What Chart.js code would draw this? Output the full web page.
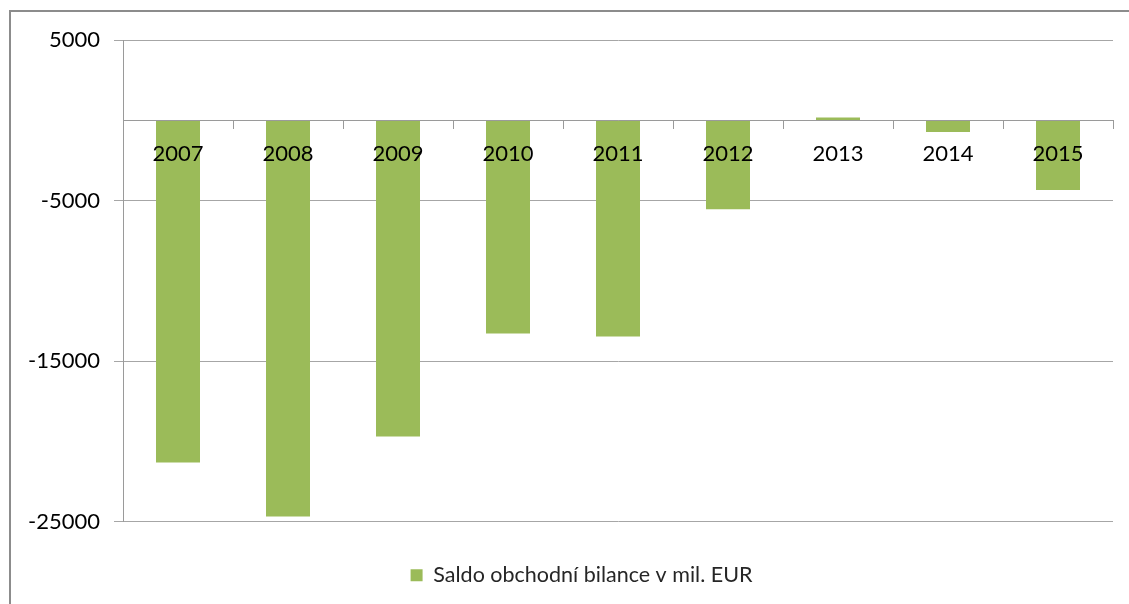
<!DOCTYPE html>
<html>
<head>
<meta charset="utf-8">
<script src="https://cdn.jsdelivr.net/npm/chart.js@4.4.0/dist/chart.umd.min.js"></script>
<style>
  html, body { margin: 0; padding: 0; background: #fff; }
  #wrap { position: relative; width: 1129px; height: 604px; overflow: hidden; }
  #frame { position: absolute; left: 9px; top: 10px; width: 1200px; height: 700px;
           border-left: 2px solid #8c8c8c; border-top: 2px solid #8c8c8c; pointer-events: none; }
</style>
</head>
<body>
<div id="wrap">
  <canvas id="c" width="1129" height="604"></canvas>
  <div id="frame"></div>
</div>
<script>
const categories = ['2007', '2008', '2009', '2010', '2011', '2012', '2013', '2014', '2015'];
const seriesName = 'Saldo obchodní bilance v mil. EUR';
const values = [-21320, -24690, -19700, -13280, -13470, -5550, 170, -730, -4350];
const yTickValues = [5000, -5000, -15000, -25000];

const FONT = 'Lato, "Open Sans", sans-serif';

const legendShift = {
  id: 'legendShift',
  afterLayout(chart) {
    if (chart.legend) { chart.legend.left += 25; chart.legend.right += 25; }
  }
};

new Chart(document.getElementById('c'), {
  type: 'bar',
  data: {
    labels: categories,
    datasets: [{
      label: seriesName,
      data: values,
      backgroundColor: '#9bbb59',
      borderWidth: 0,
      barPercentage: 0.4,
      categoryPercentage: 1.0
    }]
  },
  plugins: [legendShift],
  options: {
    responsive: false,
    animation: false,
    layout: { padding: { left: 0, right: 16, top: 40, bottom: 8 } },
    plugins: {
      tooltip: { enabled: false },
      legend: {
        position: 'bottom',
        labels: {
          font: { family: FONT, size: 21.5 },
          color: '#262626',
          boxWidth: 12,
          boxHeight: 12,
          padding: 43
        }
      }
    },
    scales: {
      x: {
        position: { y: 0 },
        grid: { display: true, drawOnChartArea: false, drawTicks: true, tickLength: 8, color: '#9a9a9a', offset: true, z: 1 },
        border: { display: true, color: '#9a9a9a', width: 1, z: 1 },
        ticks: { font: { family: FONT, size: 22 }, color: '#000', padding: 12, maxRotation: 0, z: 1 },
        afterFit: s => { s.height = 0; }
      },
      y: {
        min: -25000,
        max: 5000,
        afterBuildTicks: s => { s.ticks = yTickValues.map(v => ({ value: v })); },
        grid: { color: '#a6a6a6', tickLength: 9, drawTicks: true },
        border: { display: true, color: '#9a9a9a', width: 1 },
        ticks: { font: { family: FONT, size: 22 }, color: '#000', padding: 14, callback: v => String(v) },
        afterFit: s => { s.width = 123; }
      }
    }
  }
});
</script>
</body>
</html>
